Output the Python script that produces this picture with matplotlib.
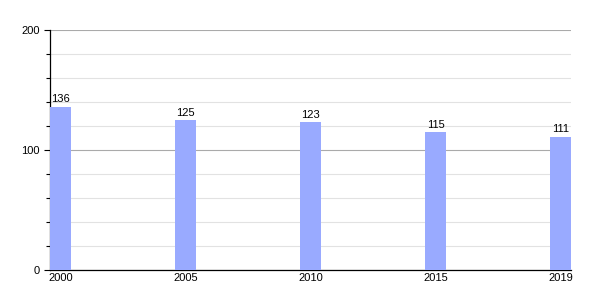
import matplotlib.pyplot as plt
from matplotlib.ticker import MultipleLocator

plt.rcParams['font.family'] = ['Liberation Sans', 'DejaVu Sans']

years = ["2000", "2005", "2010", "2015", "2019"]
values = [136, 125, 123, 115, 111]

bar_width = 0.168
xs = list(range(len(years)))

fig = plt.figure(figsize=(6, 3), dpi=100)
ax = fig.add_axes([50 / 600, 30 / 300, 521 / 600, 240 / 300])

ax.bar(xs, values, width=bar_width, color="#99aaff", zorder=3)
for x, v in zip(xs, values):
    ax.text(x, v + 2, str(v), ha="center", va="bottom", fontsize=8, zorder=4)

ax.set_xlim(-bar_width / 2, len(years) - 1 + bar_width / 2)
ax.set_ylim(0, 200)
ax.set_xticks(xs)
ax.set_xticklabels(years, fontsize=8)
ax.yaxis.set_major_locator(MultipleLocator(100))
ax.yaxis.set_minor_locator(MultipleLocator(20))
ax.tick_params(axis="y", which="major", labelsize=8, length=4, width=0.8)
ax.tick_params(axis="y", which="minor", length=3, width=0.8)
ax.tick_params(axis="x", length=0, pad=2)

ax.grid(axis="y", which="major", color="#aaaaaa", linewidth=0.8, zorder=1)
ax.grid(axis="y", which="minor", color="#e2e2e2", linewidth=0.8, zorder=0)

for side in ["top", "right"]:
    ax.spines[side].set_visible(False)
ax.spines["left"].set_linewidth(0.9)
ax.spines["bottom"].set_linewidth(0.9)

fig.savefig("out.png", dpi=100)
